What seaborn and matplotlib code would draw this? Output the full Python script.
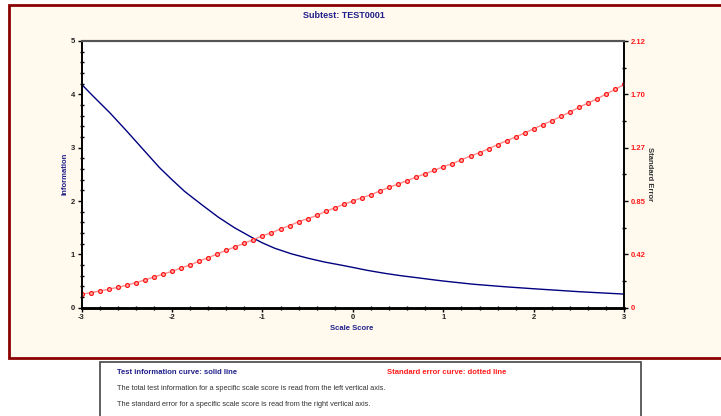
import matplotlib
matplotlib.use("Agg")
import matplotlib.pyplot as plt
from matplotlib.patches import Rectangle
from matplotlib.ticker import MultipleLocator, FixedLocator
import seaborn as sns

# ---- data ----
info_x = [-3.0, -2.88, -2.69, -2.51, -2.32, -2.14, -2.0, -1.86, -1.67, -1.49, -1.31,
          -1.12, -1.0, -0.865, -0.68, -0.49, -0.31, -0.12, 0.0, 0.16, 0.35, 0.53,
          0.72, 0.88, 1.0, 1.33, 1.70, 2.0, 2.5, 3.0]
info_y = [4.19, 3.98, 3.66, 3.33, 2.97, 2.63, 2.40, 2.18, 1.93, 1.70, 1.50,
          1.32, 1.215, 1.115, 1.01, 0.925, 0.855, 0.795, 0.755, 0.70, 0.645, 0.60,
          0.56, 0.525, 0.50, 0.44, 0.39, 0.355, 0.30, 0.255]

se_x = [-3.0, -2.9, -2.8, -2.7, -2.6, -2.5, -2.4, -2.3, -2.2, -2.1,
        -2.0, -1.9, -1.8, -1.7, -1.6, -1.5, -1.4, -1.3, -1.2, -1.1,
        -1.0, -0.9, -0.8, -0.7, -0.6, -0.5, -0.4, -0.3, -0.2, -0.1,
        0.0, 0.1, 0.2, 0.3, 0.4, 0.5, 0.6, 0.7, 0.8, 0.9,
        1.0, 1.1, 1.2, 1.3, 1.4, 1.5, 1.6, 1.7, 1.8, 1.9,
        2.0, 2.1, 2.2, 2.3, 2.4, 2.5, 2.6, 2.7, 2.8, 2.9, 3.0]
se_y = [0.107, 0.119, 0.133, 0.146, 0.162, 0.178, 0.199, 0.220, 0.244, 0.266,
        0.289, 0.316, 0.339, 0.371, 0.397, 0.427, 0.456, 0.485, 0.512, 0.541,
        0.571, 0.596, 0.626, 0.652, 0.684, 0.707, 0.734, 0.766, 0.793, 0.822,
        0.848, 0.874, 0.898, 0.928, 0.957, 0.983, 1.010, 1.039, 1.065, 1.092,
        1.121, 1.145, 1.176, 1.206, 1.232, 1.264, 1.296, 1.328, 1.357, 1.389,
        1.423, 1.455, 1.487, 1.520, 1.556, 1.593, 1.627, 1.661, 1.699, 1.736, 1.776]

x_ticks = [-3, -2, -1, 0, 1, 2, 3]
x_tick_labels = ["-3", "-2", "-1", "0", "1", "2", "3"]
left_ticks = [0, 1, 2, 3, 4, 5]
right_ticks = [0, 0.424, 0.848, 1.272, 1.696, 2.12]
right_tick_labels = ["0", "0.42", "0.85", "1.27", "1.70", "2.12"]

title = "Subtest: TEST0001"
x_label = "Scale Score"
left_label = "Information"
right_label = "Standard Error"
note_info = "Test information curve: solid line"
note_se = "Standard error curve: dotted line"
note_line1 = "The total test information for a specific scale score is read from the left vertical axis."
note_line2 = "The standard error for a specific scale score is read from the right vertical axis."

# ---- style ----
plt.rcParams['font.family'] = ['Liberation Sans', 'DejaVu Sans']
NAVY = '#20208a'
RED = '#ff1a1a'
W, H = 721, 416

def fx(px):
    return px / W

def fy(py):
    return 1 - py / H

fig = plt.figure(figsize=(7.21, 4.16), dpi=100)
fig.patch.set_facecolor('white')

# outer panel
fig.add_artist(Rectangle((fx(9), fy(358)), fx(730) - fx(9), fy(5) - fy(358),
                         transform=fig.transFigure, facecolor='#fff9ee',
                         edgecolor='#8b0000', lw=2, zorder=0))
# note box
fig.add_artist(Rectangle((fx(100), fy(420)), fx(641) - fx(100), fy(362) - fy(420),
                         transform=fig.transFigure, facecolor='white',
                         edgecolor='#444444', lw=1.2, zorder=0))

ax = fig.add_axes([fx(81.5), fy(307.7), fx(624.3) - fx(81.5), fy(41) - fy(307.7)])
ax.set_facecolor('white')
ax2 = ax.twinx()

sns.lineplot(x=info_x, y=info_y, ax=ax, color='#000080', lw=1.0, sort=True)
sns.lineplot(x=se_x, y=se_y, ax=ax2, color='#ff8c8c', lw=1.0, marker='o',
             markersize=2.8, markerfacecolor='#ffb0b0', markeredgecolor=RED,
             markeredgewidth=0.9)

ax.set_xlim(-3, 3)
ax.set_ylim(0, 5)
ax2.set_ylim(0, 2.12)

ax.set_xticks(x_ticks)
ax.set_xticklabels(x_tick_labels)
ax.xaxis.set_minor_locator(MultipleLocator(0.2))
ax.set_yticks(left_ticks)
ax.set_yticklabels([str(t) for t in left_ticks])
ax.yaxis.set_minor_locator(MultipleLocator(0.2))

ax2.set_yticks(right_ticks)
ax2.set_yticklabels(right_tick_labels)
ax2.yaxis.set_minor_locator(FixedLocator([0.212, 0.636, 1.06, 1.484, 1.908]))

for a in (ax, ax2):
    a.set_xlabel('')
    a.set_ylabel('')
    a.grid(False)

ax.tick_params(which='major', direction='out', length=3, width=1, labelsize=5.5,
               pad=1.5, colors='black', labelcolor='#222222')
ax.tick_params(which='minor', direction='inout', length=2.2, width=1, colors='black')
ax2.tick_params(which='major', direction='out', length=3, width=1, labelsize=5.5,
                pad=1.5, colors='black', labelcolor=RED)
ax2.tick_params(which='minor', direction='inout', length=2.2, width=1, colors='black')

for lbl in ax.get_xticklabels() + ax.get_yticklabels() + ax2.get_yticklabels():
    lbl.set_fontweight('bold')

for a in (ax, ax2):
    a.spines['left'].set_linewidth(1.2)
    a.spines['right'].set_linewidth(1.2)
    a.spines['bottom'].set_linewidth(1.8)
    a.spines['top'].set_linewidth(1.5)
    a.spines['top'].set_color('#555555')
    a.spines['left'].set_color('black')
    a.spines['right'].set_color('black')
    a.spines['bottom'].set_color('black')

# texts
fig.text(fx(344), fy(15), title, ha='center', va='center', fontsize=6.5,
         fontweight='bold', color=NAVY)
fig.text(fx(352), fy(329), x_label, ha='center', va='center', fontsize=5.5,
         fontweight='bold', color=NAVY)
fig.text(fx(65), fy(174), left_label, ha='center', va='center', fontsize=5.5,
         fontweight='bold', color=NAVY, rotation=90)
fig.text(fx(650), fy(174), right_label, ha='center', va='center', fontsize=5.5,
         fontweight='bold', color='#333333', rotation=-90)

fig.text(fx(117), fy(373), note_info, ha='left', va='center', fontsize=5.5,
         fontweight='bold', color=NAVY)
fig.text(fx(387), fy(373), note_se, ha='left', va='center', fontsize=5.5,
         fontweight='bold', color=RED)
fig.text(fx(117), fy(388), note_line1, ha='left', va='center', fontsize=5.3,
         color='#333333')
fig.text(fx(117), fy(404), note_line2, ha='left', va='center', fontsize=5.3,
         color='#333333')

fig.savefig('out.png', dpi=100)
